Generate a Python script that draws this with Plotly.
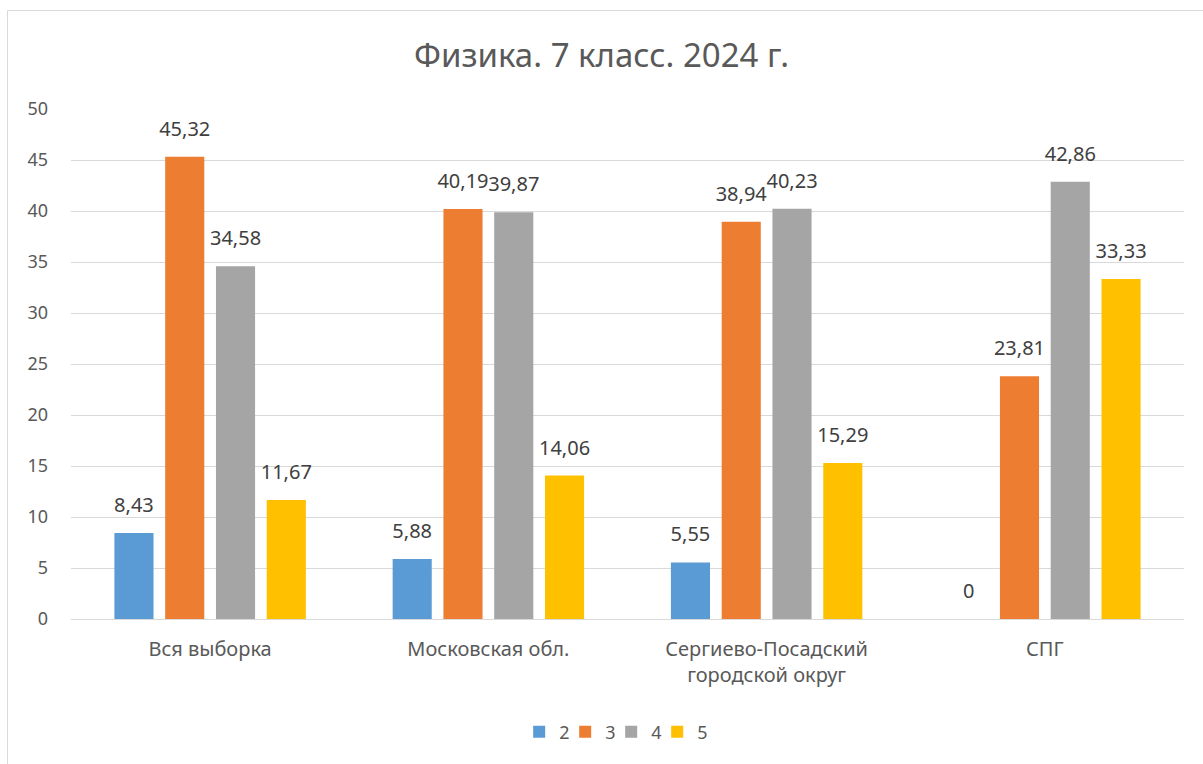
import plotly.graph_objects as go

categories = ["Вся выборка", "Московская обл.", "Сергиево-Посадский<br>городской округ", "СПГ"]
series_names = ["2", "3", "4", "5"]
values_2 = [8.43, 5.88, 5.55, 0]
values_3 = [45.32, 40.19, 38.94, 23.81]
values_4 = [34.58, 39.87, 40.23, 42.86]
values_5 = [11.67, 14.06, 15.29, 33.33]
y_ticks = [0, 5, 10, 15, 20, 25, 30, 35, 40, 45, 50]

colors = ["#5b9bd5", "#ed7d31", "#a5a5a5", "#ffc000"]
all_values = [values_2, values_3, values_4, values_5]

FONT = "Noto Sans, Open Sans, sans-serif"
BARGAP = 0.27

fig = go.Figure()
for name, vals, col in zip(series_names, all_values, colors):
    fig.add_trace(go.Bar(
        x=categories, y=vals, name=name,
        marker=dict(color=col, line=dict(width=0)),
    ))
for name, vals in zip(series_names, all_values):
    fig.add_trace(go.Scatter(
        x=categories, y=vals, mode="markers+text", showlegend=False,
        marker=dict(size=24, opacity=0, color="white"),
        text=[f"{v:g}".replace(".", ",") for v in vals],
        textposition="top center",
        textfont=dict(size=20, color="#404040", family=FONT),
        cliponaxis=False, hoverinfo="skip",
    ))
# invisible spacer entry so the last legend label is not clipped
fig.add_trace(go.Scatter(
    x=[None], y=[None], mode="markers", name=" ", visible="legendonly",
    marker=dict(color="rgba(0,0,0,0)", size=1), hoverinfo="skip",
))

fig.update_layout(
    width=1203, height=764,
    paper_bgcolor="white", plot_bgcolor="white",
    margin=dict(l=71, r=19, t=109, b=145, autoexpand=False),
    barmode="group", bargap=BARGAP, bargroupgap=0.23,
    scattermode="group", scattergap=BARGAP,
    font=dict(family=FONT, color="#595959", size=18),
    title=dict(text="Физика. 7 класс. 2024 г.", x=0.5, xanchor="center",
               y=1 - 55 / 764, yanchor="middle",
               font=dict(size=33, color="#595959", family=FONT)),
    legend=dict(orientation="h", x=0.506, xanchor="center", y=-0.2216, yanchor="middle",
                font=dict(size=18, color="#595959"), traceorder="normal",
                itemwidth=30, entrywidth=1, entrywidthmode="pixels"),
    showlegend=True,
)
fig.update_yaxes(range=[0, 50], tickvals=y_ticks, showgrid=True, gridcolor="#d9d9d9",
                 gridwidth=1, zeroline=False, showline=False, ticks="",
                 tickfont=dict(size=18, color="#595959"), ticklabelstandoff=22,
                 automargin=False)
fig.update_xaxes(showline=True, linecolor="#d9d9d9", linewidth=1, ticks="",
                 tickfont=dict(size=20, color="#595959"), ticklabelstandoff=12,
                 automargin=False)

fig.add_shape(type="rect", xref="paper", yref="paper",
              x0=(7.5 - 71) / 1113, x1=1.03, y0=-0.3, y1=(619 - 10.5) / 510,
              line=dict(color="#d9d9d9", width=1), fillcolor="rgba(0,0,0,0)", layer="below")

fig.write_html("out.html", config={"displayModeBar": False},
               post_script="document.body.style.margin='0';")
